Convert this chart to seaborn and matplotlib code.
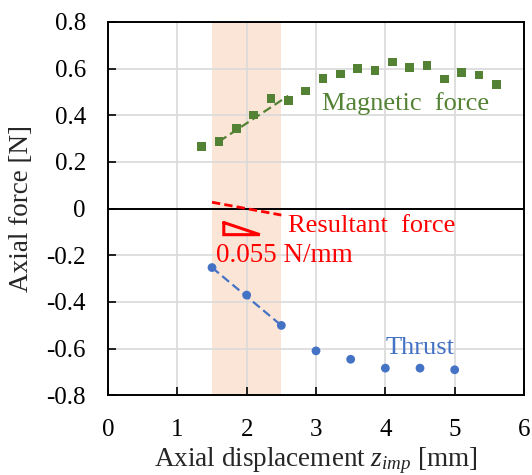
import numpy as np
import pandas as pd
import matplotlib
matplotlib.use("Agg")
import matplotlib.pyplot as plt
import seaborn as sns

# measured data
mag_x = [1.35, 1.6, 1.85, 2.1, 2.35, 2.6, 2.85, 3.1, 3.35, 3.6, 3.85, 4.1,
         4.35, 4.6, 4.85, 5.1, 5.35, 5.6]
mag_y = [0.265, 0.287, 0.344, 0.400, 0.472, 0.462, 0.503, 0.558, 0.576,
         0.601, 0.592, 0.628, 0.604, 0.612, 0.555, 0.584, 0.572, 0.532]

thr_x = [1.5, 2.0, 2.5, 3.0, 3.5, 4.0, 4.5, 5.0]
thr_y = [-0.253, -0.371, -0.501, -0.610, -0.646, -0.684, -0.684, -0.691]

# linear fits in the operating range
mag_fit_x = [1.6, 2.6]
mag_fit_y = [0.287, 0.483]
thr_fit_x = [1.5, 2.5]
thr_fit_y = [-0.253, -0.501]
res_fit_x = [1.5, 2.5]
res_fit_y = [0.027, -0.028]

# slope triangle
tri_x = [1.67, 1.67, 2.19, 1.67]
tri_y = [-0.060, -0.112, -0.112, -0.060]

band = (1.5, 2.5)

green = "#548235"
blue = "#4472c4"
red = "#ff0000"

sns.set_style("ticks")
plt.rcParams["font.family"] = ["Liberation Serif", "DejaVu Serif"]
plt.rcParams["mathtext.fontset"] = "custom"
plt.rcParams["mathtext.it"] = "Liberation Serif:italic"
plt.rcParams["mathtext.rm"] = "Liberation Serif"

fig = plt.figure(figsize=(5.32, 4.75), dpi=100)
ax = fig.add_axes([0.203, 0.168, 0.782, 0.786])

ax.axvspan(band[0], band[1], color="#fbe5d6", zorder=0, lw=0)
ax.axhline(0, color="black", lw=1.4, zorder=1)

mag = pd.DataFrame({"x": mag_x, "y": mag_y})
thr = pd.DataFrame({"x": thr_x, "y": thr_y})

sns.lineplot(x=mag_fit_x, y=mag_fit_y, ax=ax, color=green, lw=1.6,
             linestyle=(0, (4, 2)), zorder=3)
sns.lineplot(x=thr_fit_x, y=thr_fit_y, ax=ax, color=blue, lw=1.6,
             linestyle=(0, (4, 2)), zorder=3)
sns.lineplot(x=res_fit_x, y=res_fit_y, ax=ax, color=red, lw=2.0,
             linestyle=(0, (3, 1.5)), zorder=3)
ax.plot(tri_x, tri_y, color=red, lw=2.2, zorder=3, solid_joinstyle="miter")

sns.scatterplot(data=mag, x="x", y="y", ax=ax, marker="s", s=38,
                color=green, edgecolor="none", zorder=4)
sns.scatterplot(data=thr, x="x", y="y", ax=ax, marker="o", s=40,
                color=blue, edgecolor="none", zorder=4)

fs = 19
ax.text(3.09, 0.452, "Magnetic  force", color=green, fontsize=fs, va="center")
ax.text(2.60, -0.077, "Resultant  force", color=red, fontsize=fs, va="center")
ax.text(1.56, -0.20, "0.055 N/mm", color=red, fontsize=fs + 0.5, va="center")
ax.text(4.01, -0.596, "Thrust", color=blue, fontsize=fs, va="center")

ax.set_xlim(0, 6)
ax.set_ylim(-0.8, 0.8)
ax.set_xticks(range(0, 7))
ax.set_yticks(np.arange(-0.8, 0.81, 0.2))
ax.set_yticklabels(["-0.8", "-0.6", "-0.4", "-0.2", "0", "0.2", "0.4", "0.6", "0.8"])
ax.grid(True, color="#d9d9d9", lw=1.2)
ax.set_axisbelow(True)
for s in ax.spines.values():
    s.set_visible(True)
    s.set_color("black")
    s.set_linewidth(1.4)
ax.tick_params(direction="in", length=6, width=1.2, labelsize=18,
               colors="black")
ax.tick_params(axis="x", pad=17)
ax.tick_params(axis="y", pad=16)
ax.set_xlabel("Axial displacement $z_{imp}$ [mm]", fontsize=19.5, labelpad=3)
ax.set_ylabel("Axial force [N]", fontsize=19.5, labelpad=9)

fig.savefig("out.png", dpi=100)
